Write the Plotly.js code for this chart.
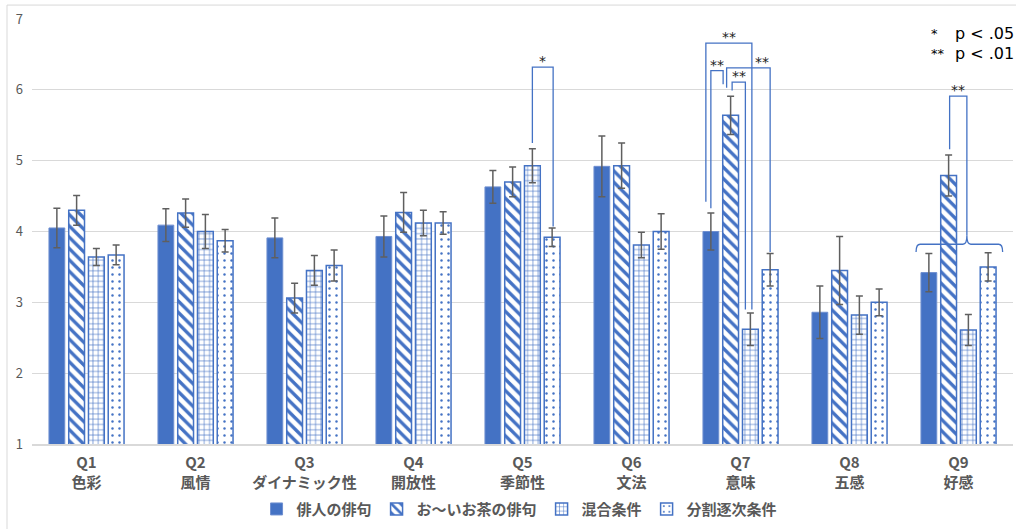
<!DOCTYPE html>
<html>
<head>
<meta charset="utf-8">
<script src="https://cdn.plot.ly/plotly-3.0.1.min.js"></script>
<style>html,body{margin:0;padding:0;background:#fff;}#chart{width:1016px;height:529px;}</style>
</head>
<body>
<div id="chart"></div>
<script>
// ---- data ----
const qLabels = ['Q1','Q2','Q3','Q4','Q5','Q6','Q7','Q8','Q9'];
const qNames = ['色彩','風情','ダイナミック性','開放性','季節性','文法','意味','五感','好感'];
const seriesNames = ['俳人の俳句','お〜いお茶の俳句','混合条件','分割逐次条件'];
const haijin   = [4.05, 4.09, 3.91, 3.93, 4.63, 4.92, 4.00, 2.86, 3.42];
const haijinSE = [0.28, 0.23, 0.28, 0.29, 0.23, 0.43, 0.26, 0.37, 0.27];
const oiocha   = [4.30, 4.26, 3.06, 4.27, 4.70, 4.93, 5.64, 3.45, 4.79];
const oiochaSE = [0.21, 0.20, 0.21, 0.28, 0.21, 0.32, 0.27, 0.48, 0.29];
const konngo   = [3.64, 4.00, 3.45, 4.12, 4.93, 3.81, 2.62, 2.82, 2.61];
const konngoSE = [0.12, 0.24, 0.21, 0.18, 0.24, 0.18, 0.23, 0.27, 0.22];
const bunkatsu   = [3.67, 3.87, 3.52, 4.12, 3.92, 4.00, 3.46, 3.00, 3.50];
const bunkatsuSE = [0.14, 0.16, 0.22, 0.16, 0.13, 0.25, 0.23, 0.19, 0.20];
const pStars = ['*', '**'];
const pTexts = ['p < .05', 'p < .01'];

// significance brackets: category index, left/right bar index (+px nudge), top, leg ends, label
const brackets = [
  {q:4, a:2, an:0,  b:3, bn:1,   top:6.32, yA:5.25, yB:4.07, label:'*',  ln:0},
  {q:6, a:0, an:-5, b:2, bn:1.5, top:6.66, yA:4.42, yB:2.90, label:'**', ln:0},
  {q:6, a:0, an:0,  b:1, bn:-7.5,top:6.27, yA:4.33, yB:6.08, label:'**', ln:0},
  {q:6, a:1, an:-4, b:3, bn:0,   top:6.31, yA:6.03, yB:3.71, label:'**', ln:14},
  {q:6, a:1, an:1.5,b:2, bn:-5,  top:6.11, yA:5.99, yB:2.90, label:'**', ln:0},
  {q:8, a:1, an:1,  b:2, bn:-1.5,top:5.91, yA:5.16, yB:3.94, label:'**', ln:0}
];
const brace = {q:8, a:0, an:-12.8, b:3, bn:14.5, c:2, cn:-1.5, base:3.82, ends:3.71, cusp:3.94};

// ---- layout constants ----
const W = 1016, H = 529;
const M = {l:32, r:3, t:19, b:83};
const PW = W - M.l - M.r, PH = H - M.t - M.b;
const BARGAP = 0.275, GROUPGAP = 0.2;
const slot = (1 - BARGAP) / 4;
const yMin = 1, yMax = 7;
const nCat = qLabels.length;
const BLUE = '#4472C4';

function px(q, j, nudge) { // paper x for bar j of category q
  const xc = q + (j - 1.5) * slot;
  return (xc + 0.5) / nCat + (nudge || 0) / PW;
}
function py(v) { return (v - yMin) / (yMax - yMin); }

const cats = qLabels.map((q, i) => q + '<br>' + qNames[i]);

const patterns = [
  null,
  {shape:'\\', fgcolor:BLUE, bgcolor:'#ffffff', size:8, solidity:0.42},
  {shape:'+', fgcolor:BLUE, bgcolor:'#ffffff', size:5.3, solidity:0.22},
  {shape:'.', fgcolor:BLUE, bgcolor:'#ffffff', size:7, solidity:0.1}
];
const vals = [haijin, oiocha, konngo, bunkatsu];
const errs = [haijinSE, oiochaSE, konngoSE, bunkatsuSE];

const traces = vals.map((v, k) => {
  const marker = {color: k === 0 ? BLUE : '#ffffff', line:{color: k === 0 ? '#6f8fd0' : BLUE, width: k === 0 ? 1 : 1.5}};
  if (patterns[k]) marker.pattern = patterns[k];
  return {
    type:'bar', name: seriesNames[k], x: cats, y: v,
    marker: marker,
    error_y: {type:'data', array: errs[k], visible:true, color:'#5f5f5f', thickness:1.5, width:3.5},
    hoverinfo:'skip'
  };
});

const shapes = [];
const annotations = [];
const lineStyle = {color:BLUE, width:1.3};
brackets.forEach(br => {
  const xa = px(br.q, br.a, br.an), xb = px(br.q, br.b, br.bn);
  shapes.push({type:'path', xref:'paper', yref:'paper',
    path:`M${xa},${py(br.yA)} L${xa},${py(br.top)} L${xb},${py(br.top)} L${xb},${py(br.yB)}`,
    line:lineStyle});
  annotations.push({xref:'paper', yref:'paper', x:(xa+xb)/2 + br.ln/PW, y:py(br.top), yanchor:'bottom', xanchor:'center',
    text:br.label, showarrow:false, font:{size:14, color:'#222', family:'DejaVu Sans'}, yshift:-4});
});
(function(){
  const xl = px(brace.q, brace.a, brace.an), xr = px(brace.q, brace.b, brace.bn), xc = px(brace.q, brace.c, brace.cn);
  const d = 4 / PW;
  const yb = py(brace.base), ye = py(brace.ends), yc = py(brace.cusp);
  shapes.push({type:'path', xref:'paper', yref:'paper',
    path:`M${xl},${ye} Q${xl},${yb} ${xl+d},${yb} L${xc-d},${yb} Q${xc},${yb} ${xc},${yc} Q${xc},${yb} ${xc+d},${yb} L${xr-d},${yb} Q${xr},${yb} ${xr},${ye}`,
    line:lineStyle});
})();

// chart frame
shapes.push({type:'rect', xref:'paper', yref:'paper', layer:'below',
  x0:(7 - M.l)/PW, x1:(W + 5 - M.l)/PW, y0:-(H + 5 - M.t - PH)/PH, y1:1 + (M.t - 5)/PH,
  line:{color:'#d9d9d9', width:1}, fillcolor:'rgba(0,0,0,0)'});

// p-value legend
const pFont = {size:16, color:'#000', family:'DejaVu Sans, sans-serif'};
const starFont = {size:13, color:'#000', family:'DejaVu Sans, sans-serif'};
const pRowsY = [33.5, 53.5];
pRowsY.forEach((yy, i) => {
  annotations.push({xref:'paper', yref:'paper', x:(929 - M.l)/PW, y:1 + (M.t - yy)/PH, xanchor:'left', yanchor:'middle',
    text:pStars[i], showarrow:false, font:starFont});
  annotations.push({xref:'paper', yref:'paper', x:(1016 - M.l)/PW, y:1 + (M.t - yy)/PH, xanchor:'right', yanchor:'middle',
    text:pTexts[i], showarrow:false, font:pFont});
});

const layout = {
  width:W, height:H,
  margin:M,
  paper_bgcolor:'#ffffff', plot_bgcolor:'#ffffff',
  barmode:'group', bargap:BARGAP, bargroupgap:GROUPGAP,
  font:{family:'Noto Sans CJK JP, sans-serif', color:'#595959'},
  xaxis:{type:'category', showgrid:false, showline:true, linecolor:'#d9d9d9', linewidth:2,
    ticks:'', tickfont:{size:15, color:'#595959', weight:'bold'}, ticklabelstandoff:4, fixedrange:true},
  yaxis:{range:[yMin, yMax], dtick:1, showgrid:true, gridcolor:'#d9d9d9', gridwidth:1, zeroline:false,
    showline:false, ticks:'', tickfont:{size:13, color:'#595959'}, ticklabelstandoff:8, fixedrange:true},
  showlegend:true,
  legend:{orientation:'h', x:0.497, xanchor:'center', y:-(511.5 - M.t - PH)/PH, yanchor:'middle',
    font:{size:15, color:'#595959', weight:'bold'}, itemwidth:30, traceorder:'normal'},
  shapes:shapes,
  annotations:annotations
};

Plotly.newPlot('chart', traces, layout, {staticPlot:true, displayModeBar:false});
</script>
</body>
</html>
